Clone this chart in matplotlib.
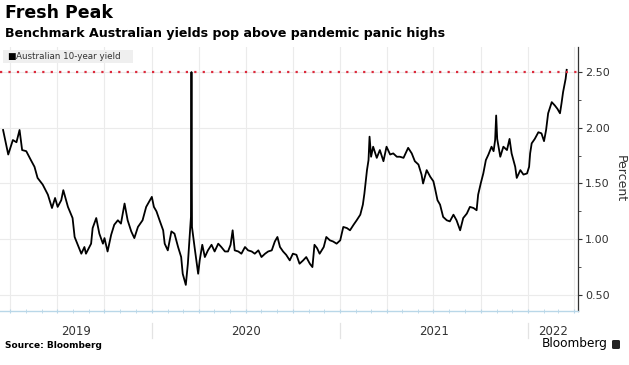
import numpy as np
import pandas as pd
import matplotlib
matplotlib.use("Agg")
import matplotlib.pyplot as plt
import matplotlib.dates as mdates
from matplotlib.ticker import MultipleLocator, FormatStrFormatter
from matplotlib.lines import Line2D
from matplotlib.patches import FancyBboxPatch

plt.rcParams['font.family'] = ['DejaVu Sans']

# Australian 10-year yield (roughly weekly)
dates = [
    "2019-03-18", "2019-03-28", "2019-04-06", "2019-04-13", "2019-04-19", "2019-04-24",
    "2019-05-02", "2019-05-11", "2019-05-18", "2019-05-24", "2019-06-03", "2019-06-13",
    "2019-06-21", "2019-06-27", "2019-07-02", "2019-07-09", "2019-07-13", "2019-07-22",
    "2019-07-31", "2019-08-04", "2019-08-10", "2019-08-17", "2019-08-23", "2019-08-26",
    "2019-09-05", "2019-09-08", "2019-09-15", "2019-09-21", "2019-09-28", "2019-10-01",
    "2019-10-07", "2019-10-14", "2019-10-20", "2019-10-27", "2019-11-02", "2019-11-09",
    "2019-11-15", "2019-11-22", "2019-11-28", "2019-12-05", "2019-12-14", "2019-12-21",
    "2020-01-01", "2020-01-05", "2020-01-10", "2020-01-16", "2020-01-23", "2020-01-26",
    "2020-02-01", "2020-02-08", "2020-02-14", "2020-02-21", "2020-02-27", "2020-03-01",
    "2020-03-07", "2020-03-11", "2020-03-14", "2020-03-17", "2020-03-18", "2020-03-19",
    "2020-03-24", "2020-03-31", "2020-04-03", "2020-04-08", "2020-04-13", "2020-04-19",
    "2020-04-26", "2020-05-02", "2020-05-09", "2020-05-15", "2020-05-22", "2020-05-28",
    "2020-06-02", "2020-06-06", "2020-06-10", "2020-06-17", "2020-06-23", "2020-06-30",
    "2020-07-06", "2020-07-13", "2020-07-19", "2020-07-26", "2020-08-01", "2020-08-08",
    "2020-08-14", "2020-08-21", "2020-08-27", "2020-09-01", "2020-09-06", "2020-09-12",
    "2020-09-18", "2020-09-25", "2020-10-01", "2020-10-08", "2020-10-14", "2020-10-21",
    "2020-10-27", "2020-11-03", "2020-11-08", "2020-11-12", "2020-11-17", "2020-11-22",
    "2020-11-30", "2020-12-05", "2020-12-12", "2020-12-18", "2020-12-25",
    "2021-01-01", "2021-01-07", "2021-01-14", "2021-01-20", "2021-01-27", "2021-02-02",
    "2021-02-09", "2021-02-14", "2021-02-17", "2021-02-22", "2021-02-25", "2021-02-27",
    "2021-03-02", "2021-03-06", "2021-03-13", "2021-03-19", "2021-03-26", "2021-04-01",
    "2021-04-08", "2021-04-14", "2021-04-21", "2021-04-27", "2021-05-04", "2021-05-13",
    "2021-05-20", "2021-05-26", "2021-06-02", "2021-06-08", "2021-06-11", "2021-06-18",
    "2021-06-25", "2021-07-01", "2021-07-04", "2021-07-09", "2021-07-14", "2021-07-20",
    "2021-07-27", "2021-08-02", "2021-08-09", "2021-08-15", "2021-08-22", "2021-08-28",
    "2021-09-04", "2021-09-10", "2021-09-17", "2021-09-23", "2021-09-26", "2021-10-01",
    "2021-10-06", "2021-10-11", "2021-10-16", "2021-10-22", "2021-10-26", "2021-10-29",
    "2021-10-31", "2021-11-02", "2021-11-08", "2021-11-14", "2021-11-21", "2021-11-26",
    "2021-11-30", "2021-12-07", "2021-12-10", "2021-12-17", "2021-12-23", "2021-12-30",
    "2022-01-03", "2022-01-05", "2022-01-08", "2022-01-14", "2022-01-21", "2022-01-27",
    "2022-02-01", "2022-02-05", "2022-02-09", "2022-02-16", "2022-02-22", "2022-02-27",
    "2022-03-04", "2022-03-07", "2022-03-10", "2022-03-15", "2022-03-17",
]
yields = [
    1.98, 1.76, 1.89, 1.87, 1.98, 1.80,
    1.79, 1.71, 1.65, 1.55, 1.49, 1.40,
    1.28, 1.37, 1.29, 1.35, 1.44, 1.29,
    1.19, 1.02, 0.95, 0.87, 0.93, 0.87,
    0.96, 1.10, 1.19, 1.05, 0.96, 1.01,
    0.89, 1.04, 1.13, 1.17, 1.14, 1.32,
    1.17, 1.07, 1.01, 1.11, 1.17, 1.29,
    1.38, 1.29, 1.25, 1.17, 1.08, 0.96,
    0.90, 1.07, 1.05, 0.93, 0.84, 0.69,
    0.59, 0.78, 0.99, 1.20, 2.50, 1.11,
    0.93, 0.69, 0.81, 0.95, 0.84, 0.90,
    0.95, 0.89, 0.96, 0.93, 0.89, 0.89,
    0.95, 1.08, 0.90, 0.89, 0.87, 0.93,
    0.90, 0.89, 0.87, 0.90, 0.84, 0.87,
    0.89, 0.90, 0.98, 1.02, 0.93, 0.89,
    0.86, 0.81, 0.87, 0.86, 0.78, 0.81,
    0.84, 0.78, 0.75, 0.95, 0.92, 0.87,
    0.93, 1.02, 0.99, 0.98, 0.96,
    0.99, 1.11, 1.10, 1.08, 1.13, 1.17,
    1.22, 1.31, 1.41, 1.62, 1.71, 1.92,
    1.74, 1.83, 1.73, 1.80, 1.70, 1.83,
    1.76, 1.77, 1.74, 1.74, 1.73, 1.82,
    1.77, 1.70, 1.67, 1.58, 1.50, 1.62,
    1.56, 1.52, 1.46, 1.35, 1.31, 1.20,
    1.17, 1.16, 1.22, 1.17, 1.08, 1.19,
    1.23, 1.29, 1.28, 1.26, 1.40, 1.50,
    1.59, 1.71, 1.76, 1.83, 1.79, 1.89,
    2.11, 1.90, 1.74, 1.83, 1.80, 1.90,
    1.77, 1.65, 1.55, 1.62, 1.58, 1.59,
    1.65, 1.77, 1.86, 1.90, 1.96, 1.95,
    1.88, 1.98, 2.13, 2.23, 2.20, 2.17,
    2.13, 2.22, 2.32, 2.44, 2.52,
]
panic_high = 2.50
years = [2019, 2020, 2021, 2022]

dates = pd.to_datetime(dates)
x_start, x_end = pd.Timestamp("2019-03-12"), pd.Timestamp("2022-04-08")

fig = plt.figure(figsize=(6.29, 3.65), dpi=100)
ax = fig.add_axes([0.0, 0.148, 578 / 629, 0.723])

ax.plot(dates, yields, color='black', lw=1.3, zorder=3)
ax.axhline(panic_high, color='#dc2a3c', lw=1.6, ls=(0, (1, 2.8)), zorder=4)

ax.set_xlim(x_start, x_end)
ax.set_ylim(0.356, 2.724)

# axes styling
for s in ['left', 'top']:
    ax.spines[s].set_visible(False)
ax.spines['right'].set_color('#333333')
ax.spines['right'].set_linewidth(0.9)
ax.spines['bottom'].set_color('#b9d7e8')
ax.spines['bottom'].set_linewidth(1.0)

ax.yaxis.tick_right()
ax.yaxis.set_label_position('right')
ax.yaxis.set_major_locator(MultipleLocator(0.5))
ax.yaxis.set_minor_locator(MultipleLocator(0.25))
ax.yaxis.set_major_formatter(FormatStrFormatter('%.2f'))
ax.tick_params(axis='y', which='both', direction='out', color='#333333',
               labelsize=8, labelcolor='#333333', pad=2)
ax.tick_params(axis='y', which='major', length=3)
ax.tick_params(axis='y', which='minor', length=2)
ax.set_ylabel('Percent', rotation=270, fontsize=9, color='#333333', labelpad=12)

ax.xaxis.set_major_locator(mdates.MonthLocator(bymonth=[1, 4, 7, 10]))
ax.xaxis.set_minor_locator(mdates.MonthLocator())
ax.xaxis.set_major_formatter(plt.NullFormatter())
ax.tick_params(axis='x', which='both', direction='inout', color='#b9d7e8',
               length=3)
ax.grid(True, which='major', color='#ebebeb', lw=0.8)
ax.set_axisbelow(True)

# year labels and separators below the axis
trans = ax.get_xaxis_transform()
for yr in years:
    lo = max(pd.Timestamp(f"{yr}-01-01"), x_start)
    hi = min(pd.Timestamp(f"{yr + 1}-01-01"), x_end)
    mid = lo + (hi - lo) / 2
    ax.text(mid, -0.076, str(yr), transform=trans, ha='center', va='center',
            fontsize=8.5, color='#333333')
    if yr > years[0]:
        ax.add_line(Line2D([lo, lo], [-0.045, -0.102], transform=trans,
                           color='#e3e3e3', lw=0.9, clip_on=False))

# legend box
fig.patches.append(FancyBboxPatch((3 / 629, 1 - 63 / 365), 130 / 629, 13 / 365,
                                  boxstyle='square,pad=0', transform=fig.transFigure,
                                  facecolor='#efefef', edgecolor='none'))
fig.text(7 / 629, 1 - 56.5 / 365, '\u25a0', fontsize=6.5, color='black', va='center')
fig.text(16 / 629, 1 - 56.5 / 365, 'Australian 10-year yield', fontsize=6.3,
         color='#333333', va='center')

# titles and footer
fig.text(5 / 629, 1 - 13 / 365, 'Fresh Peak', fontsize=12.5, fontweight='bold',
         va='center')
fig.text(5 / 629, 1 - 34 / 365, 'Benchmark Australian yields pop above pandemic panic highs',
         fontsize=9.1, fontweight='bold', va='center')
fig.text(5 / 629, 1 - 345 / 365, 'Source: Bloomberg', fontsize=6.5, fontweight='bold',
         va='center')
fig.text(608 / 629, 1 - 344 / 365, 'Bloomberg', fontsize=8.7, va='center', ha='right')
fig.patches.append(FancyBboxPatch((612 / 629, 1 - 349 / 365), 8 / 629, 9 / 365,
                                  boxstyle='round,pad=0,rounding_size=0.003',
                                  transform=fig.transFigure,
                                  facecolor='#222222', edgecolor='none'))

fig.savefig('out.png', dpi=100)
